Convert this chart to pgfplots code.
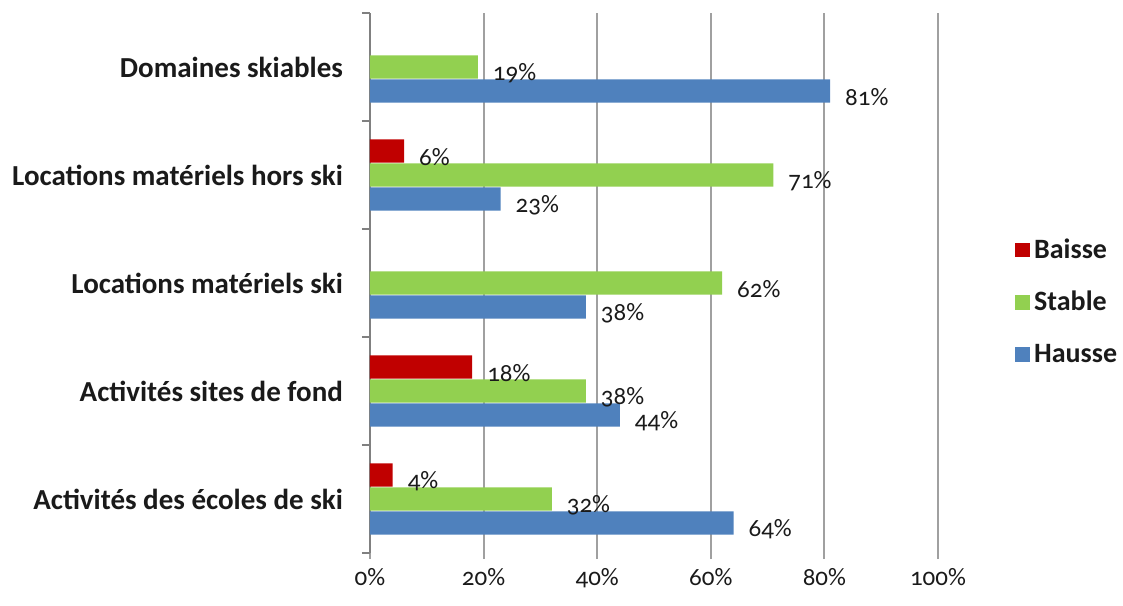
\documentclass[border=0pt]{standalone}
\usepackage{pgfplots}
\pgfplotsset{compat=1.18}
\usepackage{fontspec}
\setmainfont{Carlito}[Numbers=OldStyle]
\definecolor{cBaisse}{HTML}{C00000}
\definecolor{cStable}{HTML}{92D050}
\definecolor{cHausse}{HTML}{4F81BD}
\definecolor{gridc}{HTML}{A0A0A0}
\definecolor{txt}{HTML}{1A1A1A}
\begin{document}
\begin{tikzpicture}
\path[use as bounding box] (-185pt,-26pt) rectangle (376.5pt,276.5pt);
\begin{axis}[
  at={(0,0)}, anchor=south west,
  scale only axis, width=284pt, height=270pt,
  xmin=0, xmax=100, ymin=-0.5, ymax=4.5,
  axis lines*=left,
  x axis line style={draw=none},
  y axis line style={draw=gridc!80!black, line width=0.8pt},
  xtick={0,20,40,60,80,100},
  xticklabels={0\%,20\%,40\%,60\%,80\%,100\%},
  xmajorgrids, major grid style={draw=gridc, line width=1pt},
  ytick={0,1,2,3,4},
  yticklabels={Activités des écoles de ski,Activités sites de fond,Locations matériels ski,Locations matériels hors ski,Domaines skiables},
  minor ytick={-0.5,0.5,1.5,2.5,3.5,4.5},
  tick align=outside,
  major tick length=3pt,
  minor tick length=4pt,
  major x tick style={draw=gridc, line width=1pt},
  major y tick style={draw=none},
  minor y tick style={draw=gridc!80!black, line width=0.8pt},
  yticklabel style={font=\fontsize{14.5}{16}\selectfont\bfseries, text=txt, xshift=-7pt},
  xticklabel style={font=\fontsize{12.5}{14}\selectfont, text=txt, yshift=-1pt},
  xbar, bar width=11.6pt,
  nodes near coords={\pgfmathprintnumber[assume math mode=true]{\pgfplotspointmeta}\%},
  nodes near coords style={font=\fontsize{12.5}{14}\selectfont, text=txt, anchor=west, xshift=4pt, yshift=-3pt},
  legend style={at={(rel axis cs:1.125,0.465)}, anchor=west, draw=none, fill=none,
    font=\fontsize{14}{16}\selectfont\bfseries, text=txt, row sep=11pt,
    legend cell align=left},
  legend image code/.code={\fill[#1] (0pt,-3.7pt) rectangle (7.4pt,3.7pt);},
]
\addplot[draw=none, fill=cBaisse, bar shift=12pt] coordinates {(4,0) (18,1) (6,3)};
\addlegendentry{Baisse}
\addplot[draw=none, fill=cStable, bar shift=0pt] coordinates {(32,0) (38,1) (62,2) (71,3) (19,4)};
\addlegendentry{Stable}
\addplot[draw=none, fill=cHausse, bar shift=-12pt] coordinates {(64,0) (44,1) (38,2) (23,3) (81,4)};
\addlegendentry{Hausse}
\end{axis}
\end{tikzpicture}
\end{document}
